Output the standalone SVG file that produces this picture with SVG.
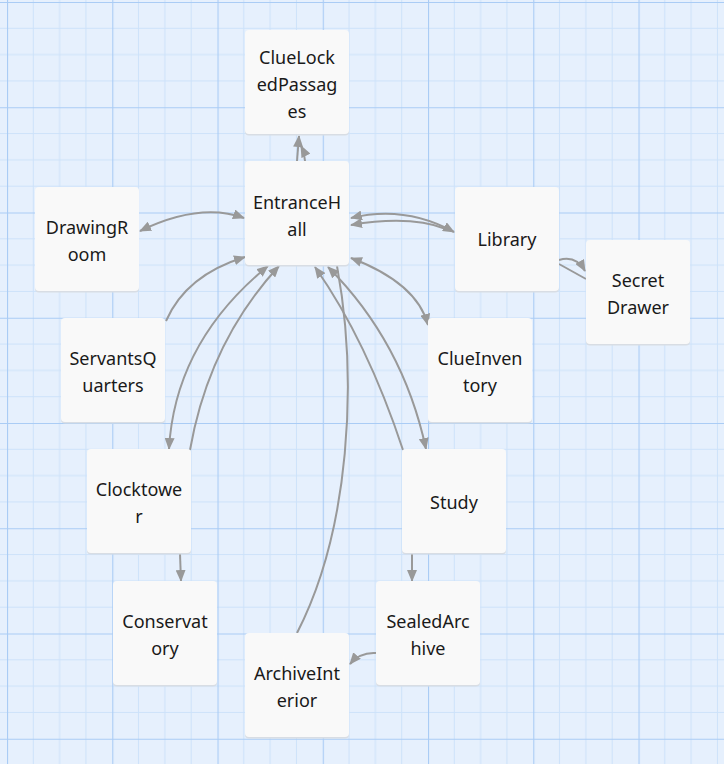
<svg xmlns="http://www.w3.org/2000/svg" width="724" height="764" viewBox="0 0 724 764">
<defs>
<pattern id="grid" x="7" y="2" width="105.25" height="105.25" patternUnits="userSpaceOnUse">
<rect width="105.25" height="105.25" fill="#e6f0fd"/>
<path d="M26.31,0V105.25M52.62,0V105.25M78.94,0V105.25M0,26.31H105.25M0,52.62H105.25M0,78.94H105.25" stroke="#cde2fa" stroke-width="1" fill="none"/>
<path d="M0.5,0V105.25M0,0.5H105.25" stroke="#aaccf5" stroke-width="1.2" fill="none"/>
</pattern>
<marker id="ah" viewBox="0 0 12 10" refX="11" refY="5" markerWidth="12" markerHeight="10" markerUnits="userSpaceOnUse" orient="auto-start-reverse">
<path d="M0,0L12,5L0,10z" fill="#999"/>
</marker>
</defs>
<style>
.node rect.bg{fill:#f9f9f9}
.node rect.sh{fill:#d8dde4}
.node text{font-family:"Noto Sans","Open Sans","DejaVu Sans",sans-serif;font-size:18px;fill:#1a1a1a;text-anchor:middle}
.edges path{fill:none;stroke:#999;stroke-width:2}
.edges .e{marker-end:url(#ah)}
.edges .b{marker-start:url(#ah);marker-end:url(#ah)}
</style>
<rect width="724" height="764" fill="url(#grid)"/>

<g id="connectors" class="edges">
<path class="e" d="M297,161L299,136"/>
<path class="e" d="M305,161Q304,152 301,146"/>
<path class="b" d="M140,231Q200,202 244,218"/>
<path class="b" d="M351,218Q405,205 454,232"/>
<path d="M351,225Q410,215 446,229" marker-start="url(#ah)"/>
<path class="e" d="M559,260Q576,255 585,271"/>
<path d="M559,264L586,279"/>
<path class="b" d="M351,258Q417,283 428,325"/>
<path class="e" d="M166,321Q186,275 245,257"/>
<path class="b" d="M169,449Q175,342 268,266"/>
<path class="e" d="M190,450Q209,342 279,266"/>
<path class="e" d="M403,450Q367,341 315,267"/>
<path class="b" d="M426,449Q403,342 328,267"/>
<path d="M297,633C350,530 358,380 337,266"/>
<path class="e" d="M180,554L181,581"/>
<path class="e" d="M412,554L412,581"/>
<path class="e" d="M376,653Q360,652 350,664"/>
</g>

<g id="ClueLockedPassages" class="node">
<rect class="sh" x="245" y="31.5" width="104" height="104" rx="4"/>
<rect class="bg" x="245" y="30" width="104" height="104" rx="4"/>
<text x="297" y="63.5">ClueLock</text><text x="297" y="90.5">edPassag</text><text x="297" y="117.5">es</text>
</g>
<g id="EntranceHall" class="node">
<rect class="sh" x="245" y="162.5" width="104" height="104" rx="4"/>
<rect class="bg" x="245" y="161" width="104" height="104" rx="4"/>
<text x="297" y="208.5">EntranceH</text><text x="297" y="235.5">all</text>
</g>
<g id="DrawingRoom" class="node">
<rect class="sh" x="35" y="188.5" width="104" height="104" rx="4"/>
<rect class="bg" x="35" y="187" width="104" height="104" rx="4"/>
<text x="87" y="234">DrawingR</text><text x="87" y="261">oom</text>
</g>
<g id="Library" class="node">
<rect class="sh" x="455" y="188.5" width="104" height="104" rx="4"/>
<rect class="bg" x="455" y="187" width="104" height="104" rx="4"/>
<text x="507" y="246">Library</text>
</g>
<g id="SecretDrawer" class="node">
<rect class="sh" x="586" y="241.5" width="104" height="104" rx="4"/>
<rect class="bg" x="586" y="240" width="104" height="104" rx="4"/>
<text x="638" y="287">Secret</text><text x="638" y="314">Drawer</text>
</g>
<g id="ServantsQuarters" class="node">
<rect class="sh" x="61" y="319.5" width="104" height="104" rx="4"/>
<rect class="bg" x="61" y="318" width="104" height="104" rx="4"/>
<text x="113" y="365">ServantsQ</text><text x="113" y="392">uarters</text>
</g>
<g id="ClueInventory" class="node">
<rect class="sh" x="428" y="319.5" width="104" height="104" rx="4"/>
<rect class="bg" x="428" y="318" width="104" height="104" rx="4"/>
<text x="480" y="365">ClueInven</text><text x="480" y="392">tory</text>
</g>
<g id="Clocktower" class="node">
<rect class="sh" x="87" y="450.5" width="104" height="104" rx="4"/>
<rect class="bg" x="87" y="449" width="104" height="104" rx="4"/>
<text x="139" y="496">Clocktowe</text><text x="139" y="523">r</text>
</g>
<g id="Study" class="node">
<rect class="sh" x="402" y="450.5" width="104" height="104" rx="4"/>
<rect class="bg" x="402" y="449" width="104" height="104" rx="4"/>
<text x="454" y="509">Study</text>
</g>
<g id="Conservatory" class="node">
<rect class="sh" x="113" y="582.5" width="104" height="104" rx="4"/>
<rect class="bg" x="113" y="581" width="104" height="104" rx="4"/>
<text x="165" y="628">Conservat</text><text x="165" y="655">ory</text>
</g>
<g id="SealedArchive" class="node">
<rect class="sh" x="376" y="582.5" width="104" height="104" rx="4"/>
<rect class="bg" x="376" y="581" width="104" height="104" rx="4"/>
<text x="428" y="628">SealedArc</text><text x="428" y="655">hive</text>
</g>
<g id="ArchiveInterior" class="node">
<rect class="sh" x="245" y="634.5" width="104" height="104" rx="4"/>
<rect class="bg" x="245" y="633" width="104" height="104" rx="4"/>
<text x="297" y="680">ArchiveInt</text><text x="297" y="707">erior</text>
</g>
</svg>
